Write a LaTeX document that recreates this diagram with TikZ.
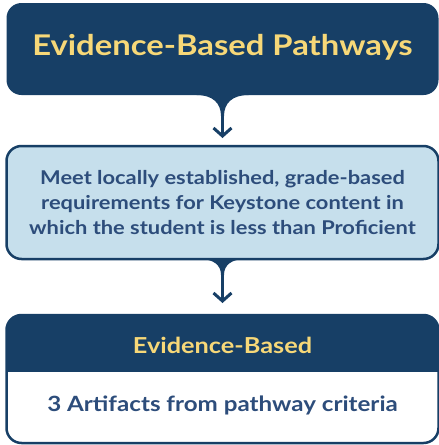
\documentclass[tikz,border=0pt]{standalone}
\usepackage{fontspec}
\setmainfont[FakeStretch=1.15]{Lato}
\usetikzlibrary{arrows.meta,backgrounds}
\definecolor{navy}{HTML}{173F66}
\definecolor{gold}{HTML}{F7D878}
\definecolor{lightblue}{HTML}{C6DFEC}
\definecolor{textnavy}{HTML}{2D4D7B}
\tikzset{
  widebox/.style={minimum width=432pt, inner sep=0pt, outer sep=0pt, align=center},
  flowarrow/.style={navy, line width=3pt, -{Straight Barb[length=8pt,width=18pt]}},
  funnel/.style={fill=navy}
}
\begin{document}
\begin{tikzpicture}[x=1pt,y=-1pt]
\useasboundingbox (0,0) rectangle (439,445);
% top box
\node[widebox, minimum height=92pt, rounded corners=15pt, fill=navy, text=gold,
      text height=22pt, text depth=10pt,
      font=\fontsize{28.5}{34}\selectfont\bfseries] (top) at (222.5,49) {Evidence-Based Pathways};
% middle box
\node[widebox, minimum height=113pt, rounded corners=15pt, fill=lightblue, draw=navy, line width=2.5pt,
      text=textnavy, font=\fontsize{19}{25}\selectfont\bfseries] (mid) at (222.5,202.5)
  {Meet locally established, grade-based\\requirements for Keystone content in\\which the student is less than Proficient};
% bottom box
\node[widebox, minimum height=57pt, text=gold, text height=19pt, text depth=0pt,
      font=\fontsize{22}{26}\selectfont\bfseries] (bothead) at (222.5,343.5) {Evidence-Based};
\node[widebox, minimum height=71pt, text=textnavy, text height=12pt, text depth=5pt,
      font=\fontsize{21}{24}\selectfont\bfseries] (botbody) at (222.5,407.5) {3 Artifacts from pathway criteria};
\begin{pgfonlayer}{background}
  \fill[white, rounded corners=15pt] (bothead.north west) rectangle (botbody.south east);
  \begin{scope}
    \clip[rounded corners=15pt] (bothead.north west) rectangle (botbody.south east);
    \fill[navy] (bothead.north west) rectangle (bothead.south east);
  \end{scope}
\end{pgfonlayer}
\draw[navy, line width=2.5pt, rounded corners=15pt] (bothead.north west) rectangle (botbody.south east);
% connectors
\fill[funnel, shift={(top.south)}] (-26,-1) -- (-26,0) .. controls (-10,0) and (-1.5,8) .. (-1.5,21) -- (1.5,21) .. controls (1.5,8) and (10,0) .. (26,0) -- (26,-1) -- cycle;
\draw[flowarrow, shorten >=8pt] (top.south) -- (mid.north);
\fill[funnel, shift={(mid.south)}] (-23,-1) -- (-23,0) .. controls (-9,0) and (-1.5,6) .. (-1.5,16) -- (1.5,16) .. controls (1.5,6) and (9,0) .. (23,0) -- (23,-1) -- cycle;
\draw[flowarrow, shorten >=12pt] (mid.south) -- (bothead.north);
\end{tikzpicture}
\end{document}
